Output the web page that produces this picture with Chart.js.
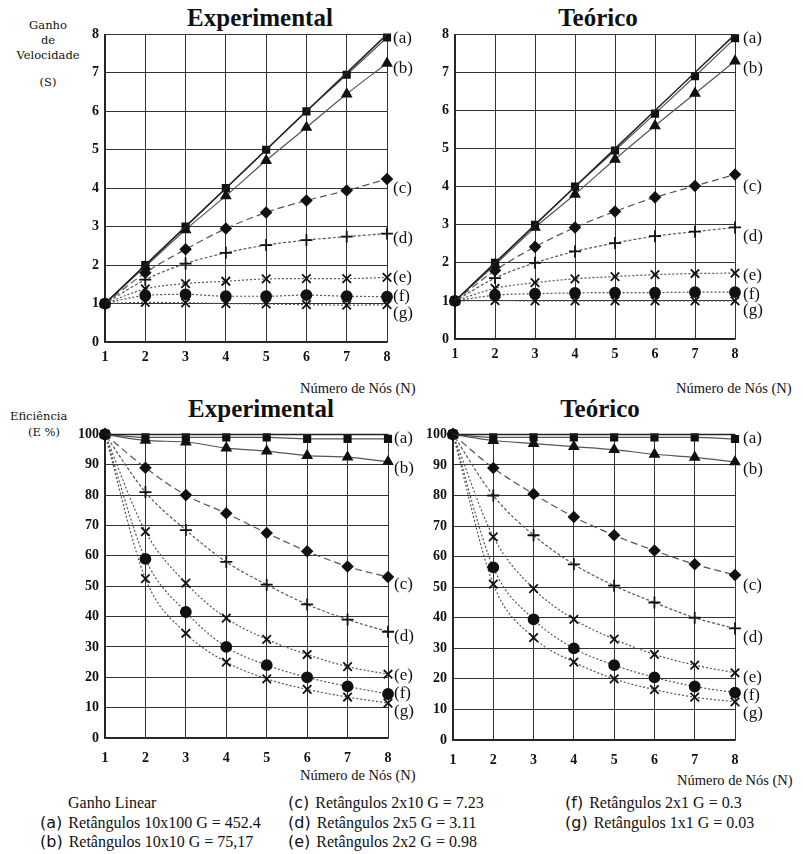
<!DOCTYPE html>
<html>
<head>
<meta charset="utf-8">
<script src="https://cdn.jsdelivr.net/npm/chart.js"></script>
<title>Ganho de Velocidade e Eficiência</title>
<style>
    body { margin: 0; background: #fff; font-family: 'Liberation Serif', serif; color: #111; }
    #page { position: relative; width: 803px; height: 854px; overflow: hidden; }
    .box { position: absolute; }
    .txt { position: absolute; white-space: nowrap; }
    .title { font-weight: bold; font-size: 25px; text-align: center; width: 200px; }
    .axis { font-size: 14.5px; }
    .ylab { font-family: 'DejaVu Serif', serif; font-size: 11.5px; text-align: center; }
    .leg { font-size: 16px; line-height: 20px; }
    .leg b { font-family: 'DejaVu Sans', sans-serif; font-weight: normal; font-size: 16px; margin-right: 6px; }
</style>
</head>
<body>
<div id="page">
    <div class="txt title" style="left:160px; top:4px;">Experimental</div>
    <div class="txt title" style="left:498px; top:4px;">Teórico</div>
    <div class="txt title" style="left:161px; top:395px;">Experimental</div>
    <div class="txt title" style="left:500px; top:395px;">Teórico</div>

    <div class="txt ylab" style="left:8px; top:18px; width:80px; line-height:15px;">Ganho<br>de<br>Velocidade</div>
    <div class="txt ylab" style="left:8px; top:75px; width:80px;">(S)</div>
    <div class="txt ylab" style="left:10px; top:409px;">Eficiência</div>
    <div class="txt ylab" style="left:28px; top:425px;">(E %)</div>

    <div class="txt axis" style="left:300px; top:380px;">Número de Nós (N)</div>
    <div class="txt axis" style="left:676px; top:380px;">Número de Nós (N)</div>
    <div class="txt axis" style="left:300px; top:767px;">Número de Nós (N)</div>
    <div class="txt axis" style="left:677px; top:772px;">Número de Nós (N)</div>

    <div class="box" style="left:75px; top:20px; width:352px; height:350px;"><canvas id="speedExp"></canvas></div>
    <div class="box" style="left:425px; top:20px; width:350px; height:347px;"><canvas id="speedTeo"></canvas></div>
    <div class="box" style="left:70px; top:420px; width:358px; height:348px;"><canvas id="effExp"></canvas></div>
    <div class="box" style="left:418px; top:420px; width:357px; height:350px;"><canvas id="effTeo"></canvas></div>

    <div class="txt leg" style="left:68px; top:793px;">Ganho Linear</div>
    <div class="txt leg" style="left:40px; top:813px;"><b>(a)</b>Retângulos 10x100 G = 452.4</div>
    <div class="txt leg" style="left:40px; top:832px;"><b>(b)</b>Retângulos 10x10 G = 75,17</div>
    <div class="txt leg" style="left:288px; top:793px;"><b>(c)</b>Retângulos 2x10 G = 7.23</div>
    <div class="txt leg" style="left:288px; top:813px;"><b>(d)</b>Retângulos 2x5 G = 3.11</div>
    <div class="txt leg" style="left:288px; top:832px;"><b>(e)</b>Retângulos 2x2 G = 0.98</div>
    <div class="txt leg" style="left:565px; top:793px;"><b>(f)</b>Retângulos 2x1 G = 0.3</div>
    <div class="txt leg" style="left:565px; top:813px;"><b>(g)</b>Retângulos 1x1 G = 0.03</div>
</div>

<script>
    // number of nodes
    var nodes = [1, 2, 3, 4, 5, 6, 7, 8];
    var letters = ['a', 'b', 'c', 'd', 'e', 'f', 'g'];

    // speedup, experimental
    var speedLinear = [1, 2, 3, 4, 5, 6, 7, 8];
    var speedExpA = [1, 2, 3, 4, 5, 6, 6.95, 7.92];
    var speedExpB = [1, 1.96, 2.92, 3.8, 4.72, 5.58, 6.45, 7.25];
    var speedExpC = [1, 1.8, 2.41, 2.95, 3.37, 3.68, 3.94, 4.24];
    var speedExpD = [1, 1.62, 2.04, 2.32, 2.52, 2.65, 2.74, 2.82];
    var speedExpE = [1, 1.38, 1.52, 1.58, 1.64, 1.65, 1.65, 1.68];
    var speedExpF = [1, 1.21, 1.24, 1.19, 1.19, 1.22, 1.19, 1.18];
    var speedExpG = [1, 1.03, 1.02, 1.0, 0.99, 0.97, 0.96, 0.97];

    // speedup, theoretical
    var speedTeoA = [1, 2, 3, 4, 4.95, 5.92, 6.9, 7.9];
    var speedTeoB = [1, 1.95, 2.93, 3.8, 4.72, 5.6, 6.45, 7.3];
    var speedTeoC = [1, 1.8, 2.42, 2.93, 3.35, 3.72, 4.02, 4.32];
    var speedTeoD = [1, 1.6, 2.0, 2.3, 2.52, 2.7, 2.82, 2.93];
    var speedTeoE = [1, 1.33, 1.48, 1.58, 1.64, 1.69, 1.72, 1.73];
    var speedTeoF = [1, 1.15, 1.19, 1.21, 1.22, 1.22, 1.23, 1.23];
    var speedTeoG = [1, 1.01, 1.0, 1.0, 1.0, 1.0, 1.0, 1.0];

    // efficiency, experimental
    var effLinear = [100, 100, 100, 100, 100, 100, 100, 100];
    var effExpA = [100, 99, 99, 99, 99, 98.5, 98.5, 98.5];
    var effExpB = [100, 98, 97.5, 95.5, 94.5, 93, 92.5, 91];
    var effExpC = [100, 89, 80, 74, 67.5, 61.5, 56.5, 53];
    var effExpD = [100, 81, 68.5, 58, 50.5, 44, 39, 35];
    var effExpE = [100, 68, 51, 39.5, 32.5, 27.5, 23.5, 21];
    var effExpF = [100, 59, 41.5, 30, 24, 20, 17, 14.5];
    var effExpG = [100, 52.5, 34.5, 25, 19.5, 16, 13.5, 11.5];

    // efficiency, theoretical
    var effTeoA = [100, 99, 99, 99, 99, 99, 99, 98.5];
    var effTeoB = [100, 98, 97, 96, 95, 93.5, 92.5, 91];
    var effTeoC = [100, 89, 80.5, 73, 67, 62, 57.5, 54];
    var effTeoD = [100, 80, 67, 57.5, 50.5, 45, 40, 36.5];
    var effTeoE = [100, 66.5, 49.5, 39.5, 33, 28, 24.5, 22];
    var effTeoF = [100, 56.5, 39.5, 30, 24.5, 20.5, 17.5, 15.5];
    var effTeoG = [100, 51, 33.5, 25.5, 20, 16.5, 14, 12.5];

    // where the (a)..(g) tags sit on each y axis
    var speedTagAt = [7.9, 7.1, 4.0, 2.7, 1.68, 1.17, 0.75];
    var effTagAt = [98.7, 88.6, 50.5, 33.5, 20.5, 14.7, 8.8];

    // marker and line look of each series
    var looks = {
        a: { pointStyle: 'rect', radius: 4.5, dash: [] },
        b: { pointStyle: 'triangle', radius: 5, dash: [] },
        c: { pointStyle: 'rectRot', radius: 5, dash: [7, 4] },
        d: { pointStyle: 'cross', radius: 6, dash: [3, 2] },
        e: { pointStyle: 'crossRot', radius: 6, dash: [2, 2] },
        f: { pointStyle: 'circle', radius: 5, dash: [2, 2] },
        g: { pointStyle: 'crossRot', radius: 6, dash: [2, 2] }
    };

    var tagPlugin = {
        id: 'tags',
        afterDraw: function (chart) {
            var opts = chart.options.plugins.tags;
            var ctx = chart.ctx;
            var y = chart.scales.y;
            ctx.save();
            ctx.fillStyle = '#111';
            ctx.font = '17px "Liberation Serif"';
            ctx.textBaseline = 'middle';
            letters.forEach(function (l, i) {
                ctx.fillText('(' + l + ')', chart.chartArea.right + opts.gap, y.getPixelForValue(opts.at[i]));
            });
            ctx.restore();
        }
    };

    function makeChart(id, linear, series, yMax, step, yWidth, xHeight, xPad, tagAt, gap) {
        var datasets = [{
            data: linear,
            borderColor: '#222',
            borderWidth: 1.5,
            pointRadius: 0,
            clip: false
        }];
        series.forEach(function (values, i) {
            var lk = looks[letters[i]];
            datasets.push({
                data: values,
                borderColor: '#555',
                borderWidth: 1.2,
                borderDash: lk.dash,
                cubicInterpolationMode: 'monotone',
                pointStyle: lk.pointStyle,
                pointRadius: lk.radius,
                pointBackgroundColor: '#111',
                pointBorderColor: '#111',
                pointBorderWidth: 1.8,
                clip: false
            });
        });
        var ctx = document.getElementById(id).getContext('2d');
        return new Chart(ctx, {
            type: 'line',
            data: { labels: nodes, datasets: datasets },
            plugins: [tagPlugin],
            options: {
                responsive: true,
                maintainAspectRatio: false,
                animation: false,
                layout: { padding: { top: 8, right: 40, left: 0, bottom: 0 } },
                plugins: {
                    legend: { display: false },
                    tooltip: { enabled: false },
                    tags: { at: tagAt, gap: gap }
                },
                scales: {
                    x: {
                        offset: false,
                        grid: { color: '#333', lineWidth: 1, drawTicks: false },
                        border: { color: '#222', width: 1.5 },
                        ticks: { color: '#111', padding: xPad, font: { family: 'Liberation Serif', size: 14, weight: 'bold' } },
                        afterFit: function (s) { s.height = xHeight; }
                    },
                    y: {
                        min: 0,
                        max: yMax,
                        grid: { color: '#333', lineWidth: 1, drawTicks: false },
                        border: { color: '#222', width: 1.5 },
                        ticks: { stepSize: step, color: '#111', padding: 6, font: { family: 'Liberation Serif', size: 14, weight: 'bold' } },
                        afterFit: function (s) { s.width = yWidth; }
                    }
                }
            }
        });
    }

    makeChart('speedExp', speedLinear,
        [speedExpA, speedExpB, speedExpC, speedExpD, speedExpE, speedExpF, speedExpG],
        8, 1, 30, 28, 7, speedTagAt, 6);
    makeChart('speedTeo', speedLinear,
        [speedTeoA, speedTeoB, speedTeoC, speedTeoD, speedTeoE, speedTeoF, speedTeoG],
        8, 1, 30, 28, 7, speedTagAt, 8);
    makeChart('effExp', effLinear,
        [effExpA, effExpB, effExpC, effExpD, effExpE, effExpF, effExpG],
        100, 10, 35, 30, 12, effTagAt, 6);
    makeChart('effTeo', effLinear,
        [effTeoA, effTeoB, effTeoC, effTeoD, effTeoE, effTeoF, effTeoG],
        100, 10, 35, 30, 12, effTagAt, 8);
</script>
</body>
</html>
